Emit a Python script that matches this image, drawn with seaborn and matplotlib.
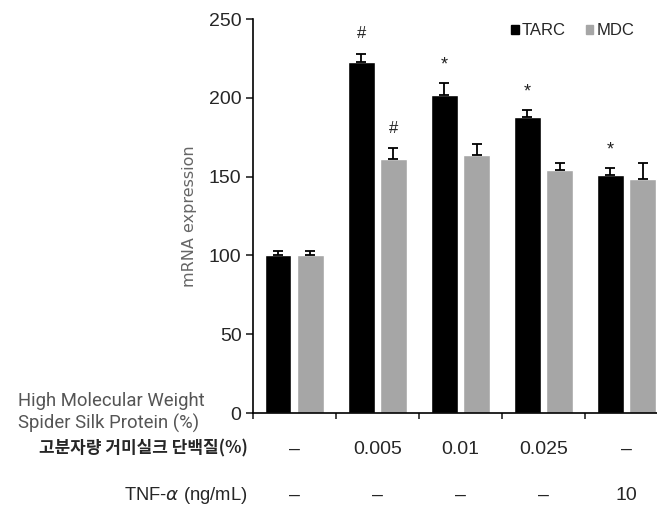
import numpy as np
import pandas as pd
import matplotlib
matplotlib.use('Agg')
import matplotlib.pyplot as plt
import matplotlib.patches as mpatches
import seaborn as sns

# data
groups = ['ctrl', 'silk_0.005', 'silk_0.01', 'silk_0.025', 'tnf_10']
tarc = [100, 223, 202, 188, 151]
tarc_err = [3, 5, 7.5, 4.5, 4.5]
mdc = [100, 161, 164, 154, 148.5]
mdc_err = [3, 7, 6.5, 4.5, 10]
tarc_marks = ['', '#', '*', '*', '*']
mdc_marks = ['', '#', '', '', '']
silk_row = ['–', '0.005', '0.01', '0.025', '–']
tnf_row = ['–', '–', '–', '–', '10']

sns.set_style('white')
plt.rcParams['font.family'] = ['Liberation Sans', 'DejaVu Sans']

data = pd.DataFrame({
    'group': groups * 2,
    'value': tarc + mdc,
    'gene': ['TARC'] * len(groups) + ['MDC'] * len(groups),
})

fig = plt.figure(figsize=(6.57, 5.07), dpi=100)
ax = fig.add_axes([252.7 / 657, 94 / 507, 415.3 / 657, 394 / 507])

palette = {'TARC': '#000000', 'MDC': '#a6a6a6'}
sns.barplot(data=data, x='group', y='value', hue='gene', order=groups,
            hue_order=['TARC', 'MDC'], palette=palette, width=0.78, gap=0.17,
            errorbar=None, legend=False, saturation=1, ax=ax)

# upward error bars and significance marks, positioned from the drawn bars
n = len(groups)
bars = ax.patches
for i in range(n):
    for bar, err, mark in [(bars[i], tarc_err[i], tarc_marks[i]),
                           (bars[n + i], mdc_err[i], mdc_marks[i])]:
        xc = bar.get_x() + bar.get_width() / 2
        h = bar.get_height()
        ax.errorbar(xc, h, yerr=[[0], [err]], fmt='none', ecolor='black',
                    elinewidth=1.3, capsize=3.5, capthick=1.3)
        if mark == '#':
            ax.text(xc, h + err + 8, mark, ha='center', va='bottom',
                    fontsize=12, color='#222222')
        elif mark:
            ax.text(xc, h + err + 6, mark, ha='center', va='bottom',
                    fontsize=13, color='#222222')

ax.set_xlim(-0.5, n - 0.5)
ax.set_ylim(0, 250)
ax.set_yticks([0, 50, 100, 150, 200, 250])
ax.set_xticks(np.arange(-0.5, n, 1.0))
ax.set_xticklabels([])
ax.set_xlabel('')
ax.tick_params(axis='y', labelsize=14, length=5, width=1.2, direction='out',
               left=True, pad=3)
ax.tick_params(axis='x', length=4, width=1.2, direction='out', bottom=True)
for s in ['top', 'right']:
    ax.spines[s].set_visible(False)
for s in ['left', 'bottom']:
    ax.spines[s].set_color('black')
    ax.spines[s].set_linewidth(1.2)

ax.set_ylabel('mRNA expression', fontsize=11.5, color='#666666',
              family=['DejaVu Sans'])
ax.yaxis.set_label_coords((197 - 252.7) / 415.3, 0.5)

# legend
handles = [mpatches.Patch(color=palette[g], label=g) for g in ['TARC', 'MDC']]
fig.legend(handles=handles, loc='upper right', bbox_to_anchor=(643 / 657, 1 - 15 / 507),
           ncol=2, frameon=False, fontsize=12, handlelength=0.45, handleheight=0.45,
           handletextpad=0.2, columnspacing=1.2, borderpad=0)

# table rows under the axis
trans = ax.get_xaxis_transform()
y_silk = -(449 - 413) / 394
y_tnf = -(495 - 413) / 394
for i in range(n):
    ax.text(i, y_silk, silk_row[i], transform=trans, ha='center', va='center',
            fontsize=14, clip_on=False)
    ax.text(i, y_tnf, tnf_row[i], transform=trans, ha='center', va='center',
            fontsize=14, clip_on=False)

fig.text(18 / 657, 1 - 401 / 507, 'High Molecular Weight', ha='left', va='center',
         fontsize=13.3, color='#555555', family=['Roboto', 'DejaVu Sans'])
fig.text(18 / 657, 1 - 423 / 507, 'Spider Silk Protein (%)', ha='left', va='center',
         fontsize=13.3, color='#555555', family=['Roboto', 'DejaVu Sans'])
fig.text(248 / 657, 1 - 448 / 507, '고분자량 거미실크 단백질(%)', ha='right', va='center',
         fontsize=12.2, fontweight='bold', family=['Noto Sans CJK KR', 'DejaVu Sans'])
fig.text(247 / 657, 1 - 495 / 507, 'TNF-$\\alpha$ (ng/mL)', ha='right', va='center',
         fontsize=13.2)

fig.savefig('out.png', dpi=100)
